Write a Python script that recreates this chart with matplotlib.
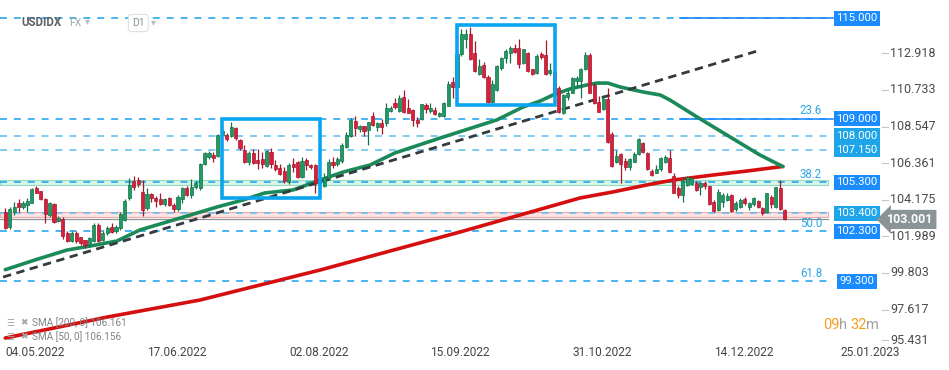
import numpy as np
import matplotlib
matplotlib.use('Agg')
import matplotlib.pyplot as plt
from matplotlib.patches import Rectangle

plt.rcParams['font.family'] = ['Roboto', 'DejaVu Sans']
plt.rcParams['lines.scale_dashes'] = False

W, H = 949, 370

# daily candles (USDIDX, D1)
opens = [103.46, 102.57, 103.46, 103.96, 103.73, 103.88, 104.00, 104.86, 104.68, 104.22,
         103.26, 103.94, 102.92, 103.00, 102.20, 101.73, 102.20, 101.93, 101.77, 101.47,
         101.73, 102.67, 101.77, 102.17, 102.55, 102.30, 102.50, 102.97, 104.28, 105.30,
         105.35, 104.65, 103.66, 104.52, 104.28, 104.20, 103.92, 104.26, 103.86, 103.64,
         104.20, 104.86, 104.46, 104.92, 104.86, 106.31, 106.75, 106.85, 106.80, 108.04,
         108.04, 107.98, 108.44, 107.74, 107.15, 106.45, 106.95, 106.55, 106.60, 106.20,
         107.00, 106.25, 106.10, 105.90, 105.25, 106.31, 106.40, 105.52, 106.55, 106.25,
         106.25, 105.16, 105.00, 105.45, 106.45, 106.31, 106.51, 107.34, 108.00, 108.90,
         108.38, 108.58, 108.34, 109.17, 108.53, 108.77, 108.74, 109.48, 109.97, 109.50,
         110.29, 109.63, 109.53, 108.94, 108.98, 109.83, 109.50, 109.53, 109.19, 109.19,
         109.79, 111.22, 110.92, 112.86, 113.75, 114.07, 112.95, 111.68, 112.22, 111.48,
         109.99, 110.73, 112.06, 112.62, 112.92, 113.21, 113.21, 112.36, 112.92, 111.96,
         111.74, 112.88, 112.82, 111.72, 111.82, 110.83, 109.33, 110.33, 110.56, 111.28,
         111.28, 111.96, 112.82, 111.02, 110.03, 109.57, 110.17, 108.10, 106.45, 106.90,
         106.50, 106.15, 106.45, 106.91, 107.58, 106.98, 105.91, 105.79, 105.99, 106.40,
         106.65, 105.59, 104.86, 104.46, 105.07, 105.10, 105.19, 104.92, 105.19, 104.99,
         104.06, 103.56, 104.06, 104.16, 104.46, 103.60, 103.76, 104.20, 103.76, 103.92,
         104.12, 103.66, 103.46, 104.36, 103.76, 104.86, 103.56]
highs = [103.68, 103.76, 104.06, 104.22, 104.10, 104.28, 104.86, 105.00, 104.72, 104.26,
         104.05, 104.00, 103.20, 103.15, 102.30, 102.30, 102.30, 101.95, 101.80, 101.95,
         102.79, 102.80, 102.30, 102.60, 102.78, 102.65, 103.44, 104.20, 105.47, 105.60,
         105.55, 105.35, 104.86, 104.60, 104.40, 104.56, 104.30, 104.32, 103.96, 104.46,
         104.96, 105.00, 105.40, 105.30, 106.35, 107.04, 107.10, 107.00, 108.10, 108.60,
         108.14, 108.83, 108.54, 107.80, 107.44, 107.10, 107.19, 107.19, 107.00, 107.14,
         107.25, 106.55, 106.30, 106.11, 106.35, 106.65, 106.50, 106.75, 106.65, 106.30,
         106.30, 105.70, 105.75, 106.60, 106.75, 106.75, 107.55, 108.20, 109.05, 109.18,
         108.65, 108.60, 108.80, 109.43, 108.80, 109.00, 109.93, 109.75, 110.23, 110.43,
         110.73, 110.17, 109.60, 109.10, 109.90, 109.93, 109.93, 109.70, 109.40, 110.00,
         111.26, 111.48, 113.10, 114.35, 114.35, 114.50, 113.67, 112.56, 112.42, 111.62,
         111.32, 112.22, 112.68, 113.16, 113.35, 113.46, 113.77, 113.20, 113.00, 112.00,
         112.90, 113.00, 113.71, 112.36, 111.90, 110.97, 110.50, 110.73, 111.52, 111.56,
         112.02, 113.01, 112.92, 111.12, 110.37, 110.43, 110.83, 108.24, 107.15, 106.95,
         106.65, 106.65, 107.00, 107.84, 107.64, 107.04, 105.99, 106.25, 106.70, 106.85,
         107.15, 105.75, 105.00, 105.51, 105.60, 105.51, 105.31, 105.25, 105.30, 105.00,
         104.16, 104.80, 104.55, 104.60, 104.50, 104.12, 104.26, 104.35, 104.06, 104.36,
         104.16, 103.76, 104.60, 104.46, 104.96, 105.35, 103.60]
lows = [102.40, 102.41, 103.26, 103.46, 103.60, 103.46, 103.98, 104.58, 104.15, 102.79,
        103.16, 102.79, 102.85, 101.85, 101.65, 101.65, 101.60, 101.45, 101.30, 101.35,
        101.65, 101.65, 101.70, 102.10, 102.20, 102.20, 102.37, 102.90, 104.16, 104.76,
        104.95, 103.20, 103.56, 104.06, 103.76, 103.86, 103.80, 103.80, 103.46, 103.50,
        104.00, 104.40, 104.30, 104.80, 104.76, 106.25, 106.59, 106.45, 106.70, 107.90,
        107.70, 107.90, 107.74, 107.15, 106.35, 106.25, 106.31, 106.00, 106.10, 106.15,
        106.05, 105.90, 105.65, 105.16, 105.10, 105.85, 105.50, 105.45, 105.95, 106.00,
        104.56, 104.90, 104.95, 105.40, 106.10, 106.20, 106.35, 107.25, 107.95, 107.98,
        108.24, 107.98, 107.44, 108.55, 108.30, 108.10, 108.60, 109.40, 109.60, 109.43,
        109.37, 109.33, 108.60, 108.50, 108.94, 109.33, 109.37, 109.23, 109.10, 109.10,
        109.77, 110.23, 110.80, 112.77, 113.21, 112.52, 111.82, 111.62, 111.42, 109.97,
        109.97, 110.69, 111.92, 112.36, 112.32, 112.92, 112.02, 112.30, 111.80, 111.60,
        111.70, 112.60, 111.62, 111.60, 110.40, 109.33, 109.30, 110.13, 110.53, 110.92,
        110.23, 111.90, 110.53, 109.89, 109.40, 109.53, 107.58, 106.15, 106.35, 105.19,
        105.95, 105.95, 106.40, 106.85, 106.98, 105.95, 105.59, 105.75, 105.90, 106.35,
        105.75, 104.56, 104.30, 104.06, 105.00, 105.05, 104.72, 104.46, 104.80, 103.85,
        103.46, 103.52, 103.75, 104.10, 103.46, 103.52, 103.70, 103.86, 103.56, 103.80,
        103.66, 103.26, 103.40, 103.66, 103.66, 103.56, 102.97]
closes = [102.47, 103.60, 103.73, 103.73, 104.00, 104.12, 104.80, 104.60, 104.20, 103.31,
          104.00, 102.86, 103.10, 102.00, 101.73, 102.20, 101.73, 101.61, 101.47, 101.87,
          102.67, 101.73, 102.20, 102.47, 102.25, 102.55, 103.35, 104.10, 105.06, 104.94,
          105.11, 103.56, 104.52, 104.28, 104.12, 103.92, 104.20, 103.86, 103.64, 104.32,
          104.86, 104.46, 104.92, 105.16, 106.31, 106.98, 106.95, 106.69, 108.04, 108.30,
          107.78, 108.54, 107.85, 107.25, 106.45, 106.98, 106.35, 106.39, 106.29, 107.10,
          106.29, 106.00, 105.71, 105.31, 106.25, 106.11, 105.55, 106.48, 106.25, 106.11,
          105.16, 105.50, 105.55, 106.45, 106.25, 106.61, 107.44, 108.04, 108.94, 108.44,
          108.58, 108.30, 108.80, 108.64, 108.77, 108.53, 109.63, 109.65, 109.70, 110.23,
          109.43, 109.37, 108.94, 108.75, 109.87, 109.57, 109.63, 109.30, 109.33, 109.93,
          111.08, 110.92, 112.86, 114.07, 114.07, 112.56, 111.88, 112.16, 111.48, 109.99,
          111.08, 112.16, 112.62, 113.07, 113.21, 113.01, 112.26, 113.15, 111.88, 111.68,
          112.76, 112.68, 111.68, 111.92, 110.53, 109.43, 110.43, 110.53, 111.42, 111.42,
          111.96, 112.82, 110.56, 109.93, 109.43, 110.17, 107.64, 106.19, 106.79, 106.31,
          106.11, 106.59, 106.91, 107.78, 107.04, 105.99, 105.65, 105.99, 106.65, 106.75,
          105.85, 104.60, 104.46, 105.31, 105.55, 105.45, 104.76, 105.16, 104.99, 103.90,
          103.50, 104.65, 104.46, 104.40, 103.52, 104.00, 104.16, 104.00, 104.00, 104.26,
          103.76, 103.37, 104.56, 103.92, 104.92, 103.60, 103.00]

# moving averages (bar index, value)
sma50_bar = [0, 6.7, 13.9, 19.1, 25.2, 30.4, 41.0, 47.8, 53.7, 58.6, 65.0, 71.1, 76.3, 82.4, 88.0,
             98.2, 111.0, 116.9, 120.8, 123.7, 127.5, 131.4, 133.6, 136.1, 138.8, 144.0, 147.9,
             150.1, 156.2, 163.7, 170.4, 175.6]
sma50_val = [100.0, 100.58, 101.17, 101.41, 101.71, 102.37, 103.20, 103.74, 104.16, 104.58, 104.76,
             105.35, 105.83, 106.25, 106.97, 107.86, 108.94, 109.71, 110.07, 110.43, 110.79, 111.03,
             111.14, 111.14, 110.91, 110.61, 110.43, 110.13, 109.12, 107.92, 106.85, 106.156]
sma200_bar = [0, 23.0, 44.0, 71.1, 102.7, 129.8, 137.2, 144.9, 150.8, 159.8, 167.5, 175.6]
sma200_val = [95.92, 97.17, 98.19, 99.98, 102.25, 104.28, 104.64, 105.06, 105.35, 105.65, 105.89, 106.161]

# trend line and boxes
trend_bar = [-0.5, 170.4]
trend_val = [99.56, 113.1]
boxes = [(48.9, 71.1, 104.28, 109.0), (102.0, 124.1, 109.83, 114.61)]

# horizontal levels: value, label, colour
levels = [(115.0, '115.000', '#1a8cff'), (109.0, '109.000', '#1a8cff'), (108.0, '108.000', '#1ea5e9'),
          (107.15, '107.150', '#1ea5e9'), (105.22, '105.300', '#1a8cff'), (103.38, '103.400', '#1ea5e9'),
          (102.3, '102.300', '#1a8cff'), (99.3, '99.300', '#1a8cff')]
fib_text = [('23.6', 109.0), ('38.2', 105.22), ('50.0', 102.3), ('61.8', 99.3)]
last_price = 103.001

price_ticks = [112.918, 110.733, 108.547, 106.361, 104.175, 101.989, 99.803, 97.617, 95.431]
date_labels = ['04.05.2022', '17.06.2022', '02.08.2022', '15.09.2022', '31.10.2022', '14.12.2022', '25.01.2023']
date_bars = [6.7, 38.8, 70.8, 102.7, 134.7, 166.8, 195.3]


def bx(px):
    return (px - 5.3) / 4.428


def by(py):
    return 116.10 - py / 16.75


def fpos(px, py):
    return px / W, 1 - py / H


fig = plt.figure(figsize=(W / 100, H / 100), dpi=100)
fig.patch.set_facecolor('white')
ax = fig.add_axes([0, 0, 1, 1])
ax.set_xlim(bx(0), bx(W))
ax.set_ylim(by(H), by(0))
ax.axis('off')

x_end = bx(828)

# bands
ax.add_patch(Rectangle((bx(0), 105.03), x_end - bx(0), 0.35, fc='#d9f4e9', ec='#94dcbc', lw=0.8, zorder=1))
ax.add_patch(Rectangle((bx(0), 103.12), x_end - bx(0), 0.35, fc='#fde4e4', ec='#f2a9a9', lw=0.8, zorder=1))

# dashed levels
for v, lab, col in levels:
    c = '#16a0ee' if col == '#1a8cff' else '#5cbcf0'
    ax.plot([bx(0), x_end], [v, v], color=c, lw=1.1, dashes=(5, 5), zorder=1.5)
# solid fib segments
for v in [115.0, 109.0]:
    ax.plot([bx(680), bx(833)], [v, v], color='#1a8cff', lw=1.2, zorder=1.6)

# current price line
ax.plot([bx(0), x_end], [last_price, last_price], color='#8a9396', lw=0.9, zorder=1.6)

# SMAs
ax.plot(sma200_bar, sma200_val, color='#d50f0f', lw=2.6, zorder=2, solid_capstyle='round')
ax.plot(sma50_bar, sma50_val, color='#1b8a58', lw=2.6, zorder=2, solid_capstyle='round')

# trend line
ax.plot(trend_bar, trend_val, color='#333a40', lw=2.0, dashes=(6, 4), zorder=2.5)

# candles
x = np.arange(len(closes))
o = np.array(opens)
c = np.array(closes)
up = c >= o
body_col = np.where(up, '#1f9a63', '#d9203a')
edge_col = np.where(up, '#12724a', '#a8142c')
ax.vlines(x, lows, highs, colors=edge_col, lw=0.9, zorder=3)
ax.bar(x, np.maximum(np.abs(c - o), 0.04), 0.7, np.minimum(o, c), color=body_col,
       edgecolor=edge_col, linewidth=0.5, zorder=3.5)

# boxes
for x0, x1, p0, p1 in boxes:
    ax.add_patch(Rectangle((x0, p0), x1 - x0, p1 - p0, fill=False, ec='#0aa5f0', lw=2.6, zorder=5))

# right axis labels
for t in price_ticks:
    ty = max(t, by(340))
    ax.plot([bx(882), bx(888)], [ty, ty], color='#c4c4c4', lw=0.8)
    ax.text(bx(890), ty, f'{t:.3f}', ha='left', va='center', fontsize=9, color='#4a4a4a')

# level labels
for v, lab, col in levels:
    ax.text(bx(857), v, lab, ha='center', va='center', fontsize=8.2, color='white', zorder=6,
            bbox=dict(boxstyle='square,pad=0.22', fc=col, ec='none'))
for lab, v in fib_text:
    ax.text(bx(811), v + 0.48, lab, ha='center', va='center', fontsize=8.3, color='#2aa6e6')

ax.text(bx(887), last_price, f'{last_price:.3f}', ha='left', va='center', fontsize=8.8,
        color='white', fontweight='bold', zorder=6,
        bbox=dict(boxstyle='larrow,pad=0.25', fc='#8a9396', ec='none'))

# date labels
for d, b in zip(date_labels, date_bars):
    ax.text(b, by(352), d, ha='center', va='center', fontsize=8.6, color='#444444')

# header
fig.text(*fpos(21, 22), 'USDIDX', fontsize=8.3, fontweight='bold', color='#5b6166', va='center')
fig.text(*fpos(69, 23), 'FX', fontsize=7.5, color='#9aa7b0', va='center')
fig.text(*fpos(85, 21), '▾', fontsize=7, color='#b5bcc2', va='center', family=['DejaVu Sans'])
fig.text(*fpos(132, 23), 'D1', fontsize=7.5, color='#8a9299', va='center',
         bbox=dict(boxstyle='round,pad=0.35,rounding_size=0.3', fc='white', ec='#dde1e4', lw=0.8))
fig.text(*fpos(151, 22), '▾', fontsize=7, color='#b5bcc2', va='center', family=['DejaVu Sans'])

# legend
for i, (name, val) in enumerate([('SMA [200, 0]', '106.161'), ('SMA [50, 0]', '106.156')]):
    yy = 323 + 14 * i
    fig.text(*fpos(6, yy), '☰', fontsize=6.5, color='#a0a6aa', va='center', family=['DejaVu Sans'])
    fig.text(*fpos(20, yy), '✖', fontsize=6.5, color='#a0a6aa', va='center', family=['DejaVu Sans'])
    fig.text(*fpos(32, yy), f'{name} {val}', fontsize=7.2, color='#7d8387', va='center')

# countdown
fig.text(*fpos(823, 325), '09', fontsize=10.5, color='#f5a01a', va='center')
fig.text(*fpos(839, 325), 'h', fontsize=10.5, color='#a0a0a0', va='center')
fig.text(*fpos(850, 325), '32', fontsize=10.5, color='#f5a01a', va='center')
fig.text(*fpos(866, 325), 'm', fontsize=10.5, color='#a0a0a0', va='center')

fig.savefig('out.png', dpi=100, facecolor='white')
